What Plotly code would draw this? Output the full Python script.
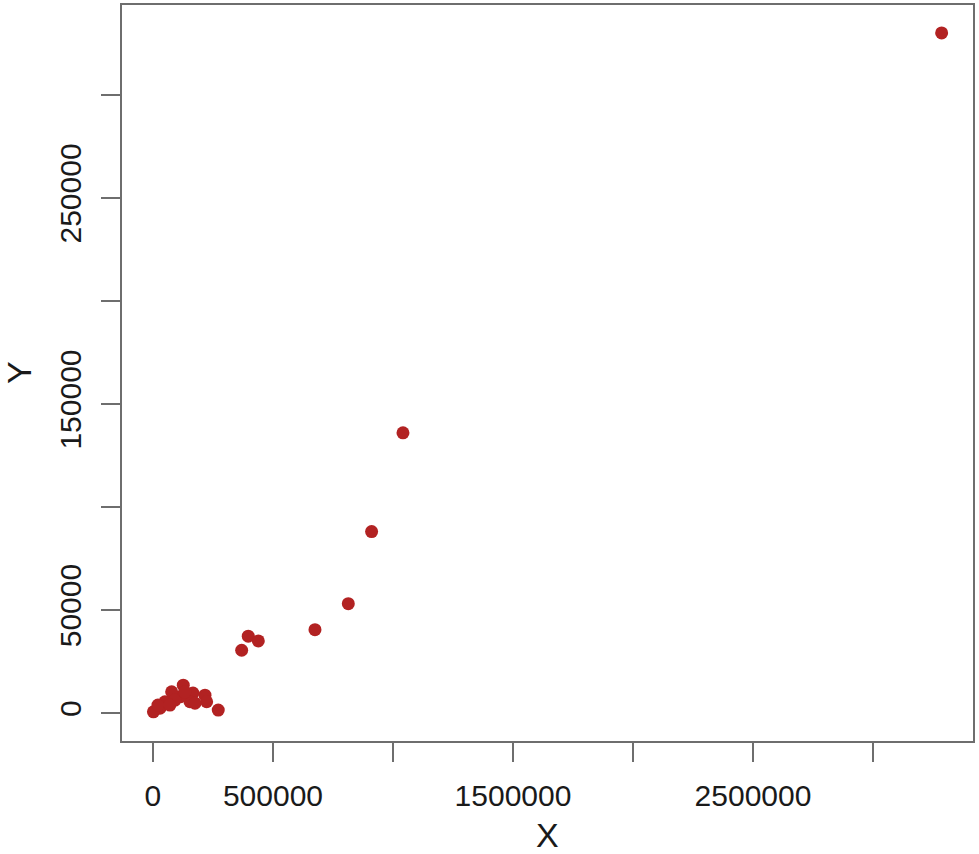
import plotly.graph_objects as go

# values
x_vals = [
    3286000, 1041700, 911000, 813900, 675000, 397000, 438900, 369600,
    272000, 216700, 223700, 166700, 126300, 154200, 112500, 77900,
    50000, 29200, 2000, 91700, 20800, 133000, 70800, 175000,
]
y_vals = [
    330100, 136000, 88100, 53100, 40500, 37300, 35000, 30500,
    1450, 8700, 5500, 9700, 13550, 5500, 7900, 10300,
    5500, 2400, 600, 6300, 3900, 10200, 3900, 4800,
]

x_ticks = [0, 500000, 1000000, 1500000, 2000000, 2500000, 3000000]
x_labels = ["0", "500000", "", "1500000", "", "2500000", ""]
y_ticks = [0, 50000, 100000, 150000, 200000, 250000, 300000]
y_labels = ["0", "50000", "", "150000", "", "250000", ""]

FONT = "Liberation Sans, Arial, sans-serif"
AXIS_GREY = "#6e6e6e"

fig = go.Figure()
fig.add_trace(
    go.Scatter(
        x=x_vals,
        y=y_vals,
        mode="markers",
        marker=dict(color="#b22222", size=13, line=dict(width=0)),
        showlegend=False,
    )
)

axis_style = dict(
    showgrid=False,
    zeroline=False,
    showline=True,
    mirror=True,
    linecolor=AXIS_GREY,
    linewidth=2,
    ticks="outside",
    ticklen=19,
    tickwidth=2,
    tickcolor=AXIS_GREY,
    tickfont=dict(family=FONT, size=30, color="#1a1a1a"),
)

fig.update_xaxes(
    range=[-129000, 3416667],
    tickvals=x_ticks,
    ticktext=x_labels,
    ticklabelstandoff=8,
    **axis_style,
)
fig.update_yaxes(
    range=[-13553, 343659],
    tickvals=y_ticks,
    ticktext=y_labels,
    tickangle=-90,
    ticklabelstandoff=8,
    **axis_style,
)

# axis titles as annotations so they sit where R put them
fig.add_annotation(
    text="X", xref="paper", yref="paper", x=0.5, y=0, yshift=-94,
    showarrow=False, yanchor="middle",
    font=dict(family=FONT, size=34, color="#1a1a1a"),
)
fig.add_annotation(
    text="Y", xref="paper", yref="paper", x=0, y=0.5, xshift=-103,
    showarrow=False, xanchor="center", textangle=-90,
    font=dict(family=FONT, size=34, color="#1a1a1a"),
)

fig.update_layout(
    width=979,
    height=854,
    margin=dict(l=122, r=6, t=3, b=113),
    plot_bgcolor="white",
    paper_bgcolor="white",
)

# drop the page's default 8px body margin so the figure starts at the corner
fig.write_html(
    "out.html",
    config={"displayModeBar": False},
    post_script="document.body.style.margin='0';",
)
